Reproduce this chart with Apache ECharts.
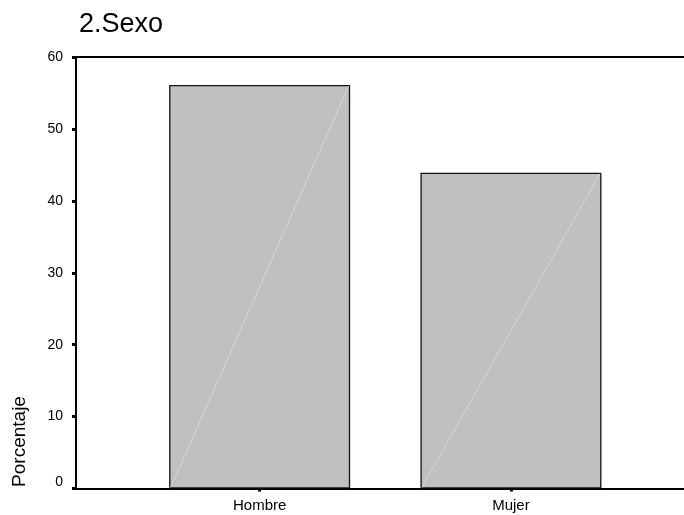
<!DOCTYPE html>
<html><head><meta charset="utf-8">
<script src="https://cdn.jsdelivr.net/npm/echarts@6/dist/echarts.min.js"></script>
<style>html,body{margin:0;padding:0;background:#fff}#c{width:684px;height:515px}</style>
</head><body><div id="c"></div>
<script>
var categories = ['Hombre', 'Mujer'];
var porcentaje = [56.1, 43.9];
var yTicks = [0, 10, 20, 30, 40, 50, 60];

var FONT = 'Liberation Sans, Arial, sans-serif';
var chart = echarts.init(document.getElementById('c'));
var yMin = yTicks[0], yMax = yTicks[yTicks.length - 1], yStep = yTicks[1] - yTicks[0];
var frameLine = {show: true, onZero: false, lineStyle: {color: '#000', width: 2}};

chart.setOption({
  animation: false,
  backgroundColor: '#fff',
  title: {
    text: '2.Sexo', left: 74, top: 6,
    textStyle: {fontFamily: FONT, fontSize: 27, fontWeight: 'normal', color: '#000'}
  },
  graphic: [{
    type: 'text', x: 20, y: 441.5, rotation: Math.PI / 2,
    style: {text: 'Porcentaje', fontFamily: FONT, fontSize: 19, fill: '#000', align: 'center', verticalAlign: 'middle'}
  }],
  grid: [
    {left: 76, right: 0, top: 57, bottom: 26.5},
    {left: 134, right: 47.4, top: 57, bottom: 26.5}
  ],
  xAxis: [
    {gridIndex: 0, type: 'value', min: 0, max: 1, position: 'top',
     axisLine: frameLine, axisTick: {show: false}, axisLabel: {show: false}, splitLine: {show: false}},
    {gridIndex: 1, type: 'category', data: categories,
     axisLine: {show: false},
     axisTick: {show: true, alignWithLabel: true, length: 3, lineStyle: {color: '#000', width: 3}},
     axisLabel: {fontFamily: FONT, fontSize: 15, color: '#000', margin: 10}},
    {gridIndex: 0, type: 'value', min: 0, max: 1, position: 'bottom',
     axisLine: frameLine, axisTick: {show: false}, axisLabel: {show: false}, splitLine: {show: false}}
  ],
  yAxis: [
    {gridIndex: 0, type: 'value', min: yMin, max: yMax, interval: yStep,
     axisLine: frameLine,
     axisTick: {show: true, inside: false, length: 4, lineStyle: {color: '#000', width: 3}},
     splitLine: {show: false},
     axisLabel: {fontFamily: FONT, fontSize: 14, color: '#000', margin: 13,
       formatter: function (v) { return v === 0 ? '{z|0}' : String(v); },
       rich: {z: {fontFamily: FONT, fontSize: 14, color: '#000', padding: [0, 0, 12, 0]}}}},
    {gridIndex: 1, type: 'value', min: yMin, max: yMax, interval: yStep, show: false}
  ],
  series: [
    {type: 'bar', xAxisIndex: 1, yAxisIndex: 1, data: porcentaje, barWidth: 181,
     itemStyle: {color: '#c0c0c0', borderColor: '#111', borderWidth: 1.3}},
    {type: 'custom', xAxisIndex: 1, yAxisIndex: 1, z: 5, silent: true,
     data: categories.map(function (c, i) { return [i, porcentaje[i]]; }),
     encode: {x: 0, y: 1},
     renderItem: function (params, api) {
       var p0 = api.coord([api.value(0), 0]);
       var p1 = api.coord([api.value(0), api.value(1)]);
       var hw = 181 / 2 - 1.5;
       return {type: 'line', shape: {x1: p0[0] - hw, y1: p0[1] - 1, x2: p1[0] + hw, y2: p1[1] + 1},
         style: {stroke: '#d6d6d6', lineWidth: 1}};
     }}
  ]
});
</script></body></html>
